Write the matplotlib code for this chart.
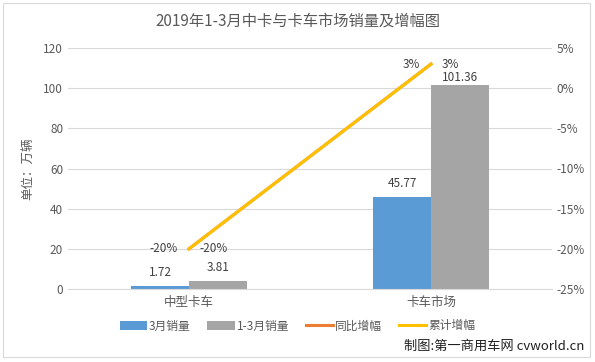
import numpy as np
from matplotlib import pyplot as plt
from matplotlib.patches import Rectangle

plt.rcParams['font.family'] = ['Noto Sans CJK SC', 'DejaVu Sans']

categories = ["中型卡车", "卡车市场"]
march_sales = [1.72, 45.77]
q1_sales = [3.81, 101.36]
yoy_growth = [-20, 3]
cum_growth = [-20, 3]

blue = "#5B9BD5"
gray = "#A5A5A5"
orange = "#ED7D31"
yellow = "#FFC000"
txt = "#595959"

fig = plt.figure(figsize=(5.95, 3.62), dpi=100)
ax = fig.add_axes([68 / 595, 1 - 289 / 362, 484 / 595, 241 / 362])
ax2 = ax.twinx()

x = np.arange(len(categories))
w = 0.24
b1 = ax.bar(x - w / 2, march_sales, w, color=blue, label="3月销量", zorder=2)
b2 = ax.bar(x + w / 2, q1_sales, w, color=gray, label="1-3月销量", zorder=2)
for bars, vals in ((b1, march_sales), (b2, q1_sales)):
    for r, v in zip(bars, vals):
        # labels sit just above the bar, pushed down near the top of the plot
        ax.text(r.get_x() + r.get_width() / 2, min(v + 3.5, 102), f"{v:.2f}", ha="center",
                va="bottom", fontsize=8.5, color="#404040")

ax.set_xlim(-0.5, 1.5)
ax.set_ylim(0, 120)
ax.set_yticks(range(0, 121, 20))
ax.grid(axis="y", color="#D9D9D9", linewidth=0.8, zorder=0)
ax.set_xticks(x)
ax.set_xticklabels(categories)
ax.set_ylabel("单位：万辆", color=txt, fontsize=9)
ax.yaxis.set_label_coords(-0.07, 0.5)

ax2.plot(x, yoy_growth, color=orange, linewidth=2.2, label="同比增幅", zorder=3)
ax2.plot(x, cum_growth, color=yellow, linewidth=2.2, label="累计增幅", zorder=4)
ax2.set_ylim(-25, 5)
ax2.set_yticks(range(-25, 6, 5))
ax2.set_yticklabels([f"{t}%" for t in range(-25, 6, 5)])
for xi, v in zip(x, yoy_growth):
    ax2.text(xi - 0.045, v, f"{v}%", ha="right", va="center", fontsize=8.5, color="#404040")
for xi, v in zip(x, cum_growth):
    ax2.text(xi + 0.045, v, f"{v}%", ha="left", va="center", fontsize=8.5, color="#404040")

for a in (ax, ax2):
    for s in a.spines.values():
        s.set_visible(False)
    a.tick_params(length=0, colors=txt, labelsize=8.5)
ax.spines["bottom"].set_visible(True)
ax.spines["bottom"].set_color("#D9D9D9")
ax.tick_params(axis="x", pad=5, labelsize=9)

h1, l1 = ax.get_legend_handles_labels()
h2, l2 = ax2.get_legend_handles_labels()
fig.legend(h1 + h2, l1 + l2, loc="center", bbox_to_anchor=(0.5, 1 - 326 / 362), ncol=4,
           frameon=False, fontsize=8.5, labelcolor=txt, handlelength=2.3, columnspacing=1.4,
           handletextpad=0.2)

fig.text(0.5, 1 - 21 / 362, "2019年1-3月中卡与卡车市场销量及增幅图", ha="center", va="center",
         fontsize=11, color=txt)
fig.text(0.982, 1 - 346 / 362, "制图:第一商用车网 cvworld.cn", ha="right", va="center",
         fontsize=9.5, color="#202020")

fig.patches.append(Rectangle((3 / 595, 5 / 362), 587 / 595, 354 / 362, transform=fig.transFigure,
                             fill=False, edgecolor="#D9D9D9", linewidth=0.8))

fig.savefig("out.png", dpi=100)
